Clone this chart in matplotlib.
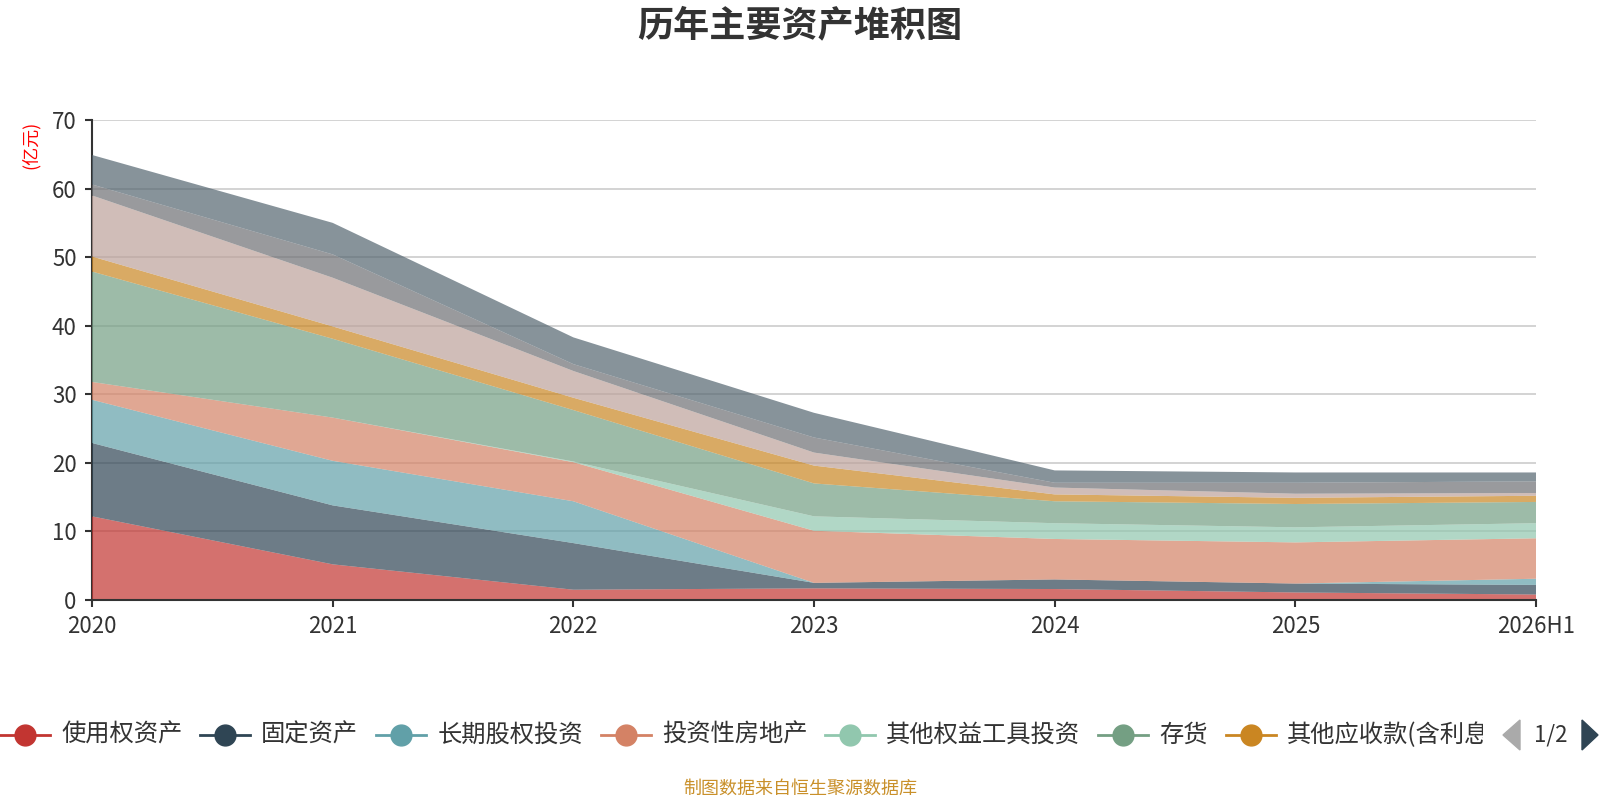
import matplotlib
matplotlib.use('Agg')
import matplotlib.pyplot as plt
from matplotlib.lines import Line2D
from matplotlib.patches import Polygon
from matplotlib.transforms import Bbox, TransformedBbox

plt.rcParams['font.family'] = ['Noto Sans CJK SC', 'DejaVu Sans']

# dati (亿元)
anni = ['2020', '2021', '2022', '2023', '2024', '2025', '2026H1']

uso_diritti = [12.2, 5.2, 1.5, 1.7, 1.6, 1.1, 0.8]
immobilizzazioni = [10.7, 8.6, 6.8, 0.8, 1.4, 1.3, 1.4]
partecipazioni = [6.3, 6.5, 6.1, 0.0, 0.0, 0.0, 0.9]
immobili_invest = [2.6, 6.3, 5.7, 7.6, 5.9, 6.0, 5.9]
altri_titoli = [0.0, 0.0, 0.1, 2.1, 2.3, 2.2, 2.2]
rimanenze = [16.1, 11.5, 7.5, 4.8, 3.2, 3.4, 3.1]
altri_crediti = [2.2, 1.8, 1.8, 2.6, 1.0, 0.9, 0.9]
crediti_comm = [8.9, 7.1, 3.9, 1.9, 1.0, 0.6, 0.4]
liquidita = [1.6, 3.4, 1.0, 2.2, 0.7, 1.6, 1.7]
altre_attivita = [4.3, 4.6, 3.9, 3.6, 1.8, 1.5, 1.3]

voci = ['使用权资产', '固定资产', '长期股权投资', '投资性房地产', '其他权益工具投资',
        '存货', '其他应收款(含利息和股利)', '应收账款', '货币资金', '其他资产']
serie = [uso_diritti, immobilizzazioni, partecipazioni, immobili_invest, altri_titoli,
         rimanenze, altri_crediti, crediti_comm, liquidita, altre_attivita]
colori = ['#c23531', '#2f4554', '#61a0a8', '#d48265', '#91c7ae',
          '#749f83', '#ca8622', '#bda29a', '#6e7074', '#546570']

W, H = 1600, 800
figura = plt.figure(figsize=(16, 8), dpi=100)
grafico = figura.add_axes([92 / W, 1 - 600 / H, (1536 - 92) / W, 480 / H])

x = list(range(len(anni)))
grafico.stackplot(x, *serie, colors=colori, alpha=0.7, linewidth=0, zorder=2)

grafico.set_xlim(0, len(anni) - 1)
grafico.set_ylim(0, 70)
grafico.set_yticks(range(0, 71, 10))
grafico.set_xticks(x)
grafico.set_xticklabels(anni)
grafico.grid(axis='y', color='#cccccc', linewidth=1.2, zorder=0)
grafico.set_axisbelow(True)
for lato in ['top', 'right']:
    grafico.spines[lato].set_visible(False)
grafico.spines['left'].set_color('#333333')
grafico.spines['left'].set_linewidth(1.5)
grafico.spines['left'].set_zorder(1)
grafico.spines['bottom'].set_color('#333333')
grafico.spines['bottom'].set_linewidth(1.5)
grafico.spines['bottom'].set_zorder(3)
grafico.tick_params(axis='both', colors='#333333', labelsize=16, length=5, width=1.5)
grafico.tick_params(axis='y', pad=6)
grafico.tick_params(axis='x', pad=6)

# titolo, unita, fonte
figura.text(0.5, 1 - 26 / H, '历年主要资产堆积图', fontsize=26, fontweight='bold',
            color='#333333', ha='center', va='center')
figura.text(31 / W, 1 - 145 / H, '(亿元)', rotation=90, color='red', fontsize=13,
            ha='center', va='center')
figura.text(0.5, 1 - 789 / H, '制图数据来自恒生聚源数据库', fontsize=13, color='#c9902a',
            ha='center', va='center')

# legenda fatta a mano (prima pagina), l'ultima voce e' tagliata come nell'originale
etichette = voci[:6] + ['其他应收款(含利息']
figura.canvas.draw()
renderer = figura.canvas.get_renderer()
y_leg = 1 - 735 / H
x_cur = 0
limite = TransformedBbox(Bbox([[0, 0], [1483 / W, 1]]), figura.transFigure)
for i in range(7):
    figura.add_artist(Line2D([x_cur / W, (x_cur + 50) / W], [y_leg, y_leg],
                             transform=figura.transFigure, color=colori[i], linewidth=2))
    figura.add_artist(Line2D([(x_cur + 25) / W], [y_leg], transform=figura.transFigure,
                             marker='o', markersize=15, color=colori[i], linestyle='none'))
    t = figura.text((x_cur + 61) / W, y_leg, etichette[i], fontsize=17.5, color='#333333',
                    ha='left', va='center')
    if i == 6:
        t.set_clip_box(limite)
        t.set_clip_on(True)
    larghezza = t.get_window_extent(renderer).width
    x_cur = x_cur + 61 + larghezza + 18

# navigazione pagine
figura.add_artist(Polygon([[1503 / W, y_leg], [1520 / W, 1 - 720 / H], [1520 / W, 1 - 750 / H]],
                          closed=True, transform=figura.transFigure, color='#aaaaaa'))
figura.text(1551 / W, y_leg, '1/2', fontsize=16, color='#333333', ha='center', va='center')
figura.add_artist(Polygon([[1598 / W, y_leg], [1582 / W, 1 - 720 / H], [1582 / W, 1 - 750 / H]],
                          closed=True, transform=figura.transFigure, color='#2f4554'))

figura.savefig('out.png', dpi=100)
